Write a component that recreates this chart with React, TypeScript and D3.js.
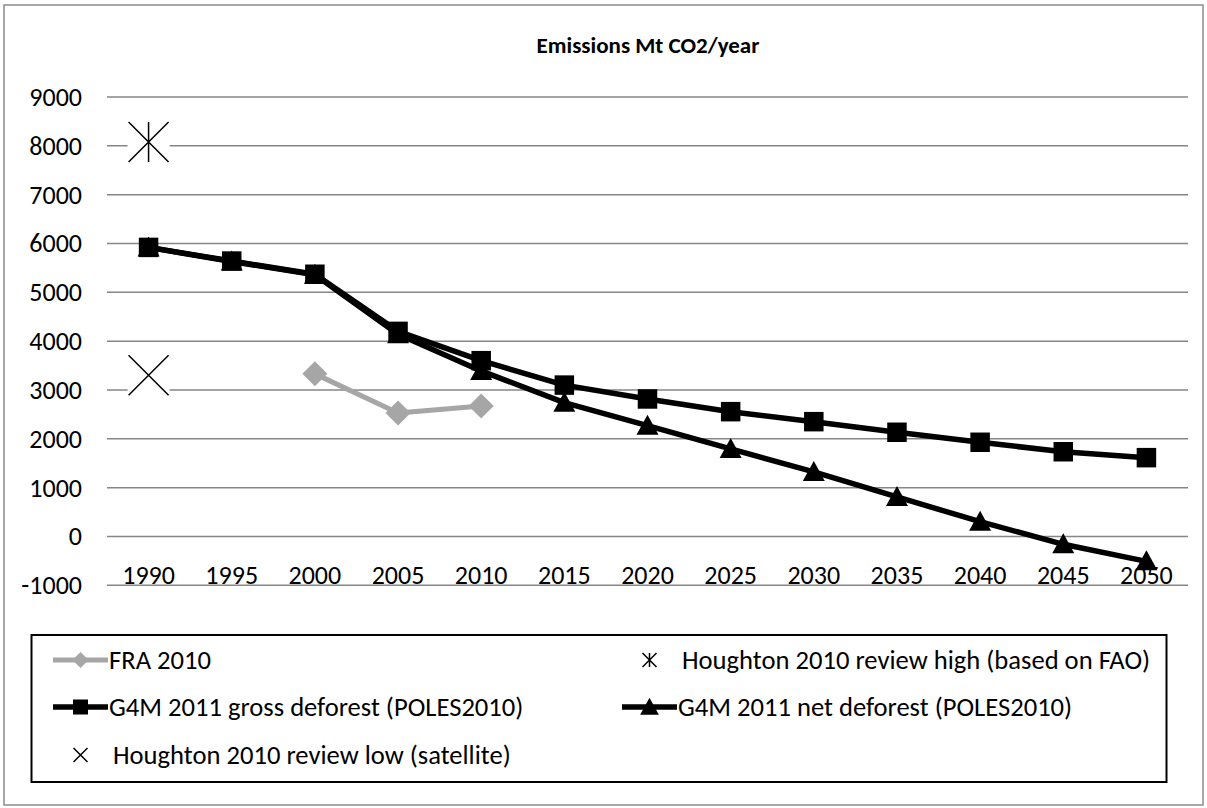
import React from "react";
import * as d3 from "d3";

const years = ["1990","1995","2000","2005","2010","2015","2020","2025","2030","2035","2040","2045","2050"];
const fra: (number | null)[] = [null, null, 3330, 2530, 2670, null, null, null, null, null, null, null, null];
const gross: number[] = [5920, 5640, 5370, 4200, 3600, 3100, 2816, 2556, 2351, 2134, 1929, 1735, 1614];
const net: number[] = [5920, 5630, 5360, 4140, 3390, 2740, 2269, 1792, 1321, 809, 303, -160, -510];
const houghtonHigh = [{ year: "1990", value: 8080 }];
const houghtonLow = [{ year: "1990", value: 3300 }];
const yTicks = [-1000, 0, 1000, 2000, 3000, 4000, 5000, 6000, 7000, 8000, 9000];

const W = 1207, H = 808;
const FONT = "Carlito, Calibri, Lato, 'Open Sans', sans-serif";
const FS = 26;
const LFS = 26.6;

export default function App() {
  const x = d3.scaleBand<string>().domain(years).range([107, 1188]);
  const cx = (y: string) => (x(y) as number) + x.bandwidth() / 2;
  const y = d3.scaleLinear().domain([-1000, 9000]).range([585.3, 97]);

  const lineGen = d3
    .line<[string, number | null]>()
    .defined((d) => d[1] !== null)
    .x((d) => cx(d[0]))
    .y((d) => y(d[1] as number));

  const zip = (arr: (number | null)[]) => years.map((yr, i) => [yr, arr[i]] as [string, number | null]);

  const sq = d3.symbol().type(d3.symbolSquare).size(19.5 * 19.5);
  const tri = (s: number) => `M0,${-s * 0.55}L${s * 0.55},${s * 0.45}L${-s * 0.55},${s * 0.45}Z`;
  const dia = (s: number) => `M0,${-s}L${s},0L0,${s}L${-s},0Z`;
  const xMark = (s: number) => `M${-s},${-s}L${s},${s}M${-s},${s}L${s},${-s}`;
  const star = (s: number) => `M${-s},${-s}L${s},${s}M${-s},${s}L${s},${-s}M0,${-s}L0,${s}`;

  const grey = "#a6a6a6";

  return (
    <svg width={W} height={H} style={{ position: "absolute", left: 0, top: 0, background: "#fff" }} fontFamily={FONT}>
      <rect x={4} y={5} width={1199} height={800} fill="#fff" stroke="#8c8c8c" strokeWidth={1.5} />
      <text x={648} y={53} textAnchor="middle" fontWeight="bold" fontSize={23} fill="#000">
        Emissions Mt CO2/year
      </text>
      {yTicks.map((t) => (
        <line key={t} x1={107} x2={1188} y1={y(t)} y2={y(t)} stroke="#868686" strokeWidth={1.5} />
      ))}
      {yTicks.map((t) => (
        <text key={"l" + t} x={82} y={y(t) + 9} textAnchor="end" fontSize={FS} fill="#000">
          {t}
        </text>
      ))}
      {years.map((yr) => (
        <text key={"x" + yr} x={cx(yr)} y={584} textAnchor="middle" fontSize={FS} fill="#000">
          {yr}
        </text>
      ))}
      {houghtonHigh.map((d) => (
        <g key="hh" transform={`translate(${cx(d.year)},${y(d.value)})`}>
          <rect x={-21} y={-21} width={42} height={42} fill="#fff" />
          <path d={star(20)} stroke="#000" strokeWidth={1.5} fill="none" />
        </g>
      ))}
      {houghtonLow.map((d) => (
        <g key="hl" transform={`translate(${cx(d.year)},${y(d.value)})`}>
          <rect x={-21} y={-21} width={42} height={42} fill="#fff" />
          <path d={xMark(20)} stroke="#000" strokeWidth={1.5} fill="none" />
        </g>
      ))}
      <path d={lineGen(zip(fra)) || ""} fill="none" stroke={grey} strokeWidth={5} strokeLinejoin="round" />
      {years.map((yr, i) =>
        fra[i] !== null ? (
          <path key={"f" + yr} d={dia(12.5)} transform={`translate(${cx(yr)},${y(fra[i] as number)})`} fill={grey} />
        ) : null
      )}
      <path d={lineGen(zip(net)) || ""} fill="none" stroke="#000" strokeWidth={5.5} strokeLinejoin="round" />
      {years.map((yr, i) => (
        <path key={"n" + yr} d={tri(20)} transform={`translate(${cx(yr)},${y(net[i])})`} fill="#000" />
      ))}
      <path d={lineGen(zip(gross)) || ""} fill="none" stroke="#000" strokeWidth={5.5} strokeLinejoin="round" />
      {years.map((yr, i) => (
        <path key={"g" + yr} d={sq() || ""} transform={`translate(${cx(yr)},${y(gross[i])})`} fill="#000" />
      ))}
      <rect x={31.5} y={635} width={1135} height={147} fill="#fff" stroke="#000" strokeWidth={2} />
      <g fontSize={LFS} fill="#000">
        <line x1={53} x2={108} y1={660} y2={660} stroke={grey} strokeWidth={5} />
        <path d={dia(8)} transform="translate(80.5,660)" fill={grey} />
        <text x={109} y={669}>FRA 2010</text>
        <path d={star(7)} transform="translate(649.5,660)" stroke="#000" strokeWidth={1.5} fill="none" />
        <text x={682} y={669}>Houghton 2010 review high (based on FAO)</text>
        <line x1={53} x2={108} y1={707} y2={707} stroke="#000" strokeWidth={5.5} />
        <rect x={73} y={699.5} width={15} height={15} fill="#000" />
        <text x={109} y={716}>G4M 2011 gross deforest (POLES2010)</text>
        <line x1={622} x2={677} y1={707} y2={707} stroke="#000" strokeWidth={5.5} />
        <path d={tri(17)} transform="translate(649.5,707)" fill="#000" />
        <text x={678} y={716}>G4M 2011 net deforest (POLES2010)</text>
        <path d={xMark(7)} transform="translate(80.5,755)" stroke="#000" strokeWidth={1.5} fill="none" />
        <text x={113} y={764}>Houghton 2010 review low (satellite)</text>
      </g>
    </svg>
  );
}
